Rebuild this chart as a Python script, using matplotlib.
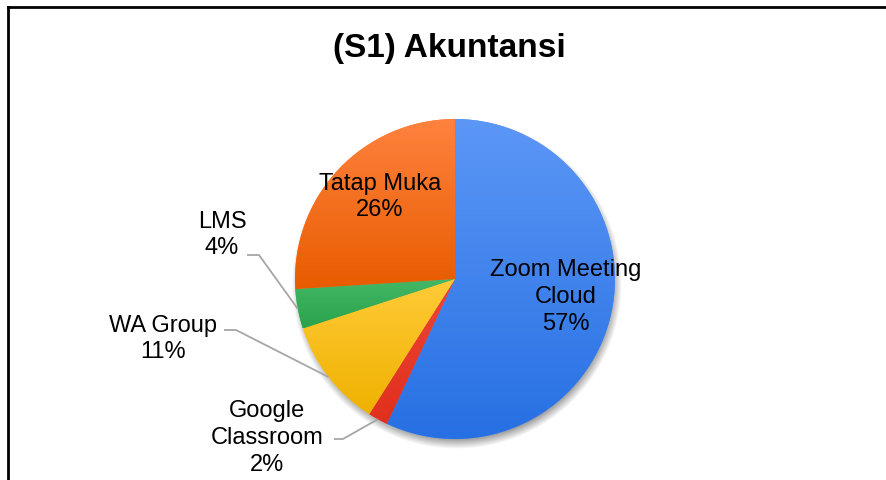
import numpy as np
import matplotlib.pyplot as plt
from matplotlib.lines import Line2D

# data
labels = ["Zoom Meeting\nCloud", "Google\nClassroom", "WA Group", "LMS", "Tatap Muka"]
shares = [57, 2, 11, 4, 26]
top_colors = ["#5C97F6", "#EE4434", "#FFCB38", "#44B866", "#FF823E"]
bottom_colors = ["#2770E3", "#E0301E", "#EFB100", "#2AA24B", "#E85C00"]

W, H = 887, 481
CX, CY, R = 455, 280, 160          # pie centre / radius in image pixels (y down)
LS = 1.27


def py(y):
    """image y (top down) -> axes y (bottom up)"""
    return H - y


def hex2rgb(h):
    h = h.lstrip("#")
    return np.array([int(h[i:i + 2], 16) / 255 for i in (0, 2, 4)])


plt.rcParams["font.family"] = ["Liberation Sans", "DejaVu Sans"]

fig = plt.figure(figsize=(W / 100, H / 100), dpi=100)
ax = fig.add_axes([0, 0, 1, 1])

# soft drop shadow under the pie
gx, gy = np.meshgrid(np.arange(W) + 0.5, np.arange(H) + 0.5)
d = np.hypot(gx - (CX + 2), gy - (CY + 5))
alpha = 0.42 * np.clip((R + 5 - d) / 11, 0, 1)
shadow = np.zeros((H, W, 4))
shadow[..., 3] = alpha
ax.imshow(shadow, extent=[0, W, 0, H], origin="upper", zorder=0,
          interpolation="bilinear")

wedges, _ = ax.pie(shares, startangle=90, counterclock=False,
                   center=(CX, py(CY)), radius=R,
                   colors=top_colors, wedgeprops=dict(linewidth=0))

# vertical gradient inside each slice
for w, c0, c1 in zip(wedges, top_colors, bottom_colors):
    w.set_zorder(1)
    v = w.get_path().vertices
    x0, x1 = v[:, 0].min(), v[:, 0].max()
    y0, y1 = v[:, 1].min(), v[:, 1].max()
    t = np.linspace(0, 1, 256)[:, None, None]
    grad = hex2rgb(c1)[None, None, :] * (1 - t) + hex2rgb(c0)[None, None, :] * t
    im = ax.imshow(grad, extent=[x0, x1, y0, y1], origin="lower",
                   aspect="auto", zorder=2, interpolation="bilinear")
    im.set_clip_path(w)

# labels inside
ax.text(566, py(297), "Zoom Meeting\nCloud\n57%", ha="center", va="center",
        fontsize=17, linespacing=LS, zorder=5)
ax.text(380, py(197), "Tatap Muka\n26%", ha="center", va="center",
        fontsize=17, linespacing=LS, zorder=5)

# labels outside with leader lines
outside = [
    (3, "LMS\n4%", (222, 235), (247, 256), (259, 256)),
    (2, "WA Group\n11%", (163, 339), (224, 331), (236, 331)),
    (1, "Google\nClassroom\n2%", (267, 438), (334, 440), (343, 440)),
]
for i, txt, (tx, ty), (sx, sy), (kx, ky) in outside:
    w = wedges[i]
    mid = np.deg2rad((w.theta1 + w.theta2) / 2)
    ex = CX + R * np.cos(mid)
    ey = py(CY) + R * np.sin(mid)
    ax.plot([sx, kx, ex], [py(sy), py(ky), ey], color="#A6A6A6",
            lw=1.3, zorder=4, solid_capstyle="butt")
    ax.text(tx, py(ty), txt, ha="center", va="center", fontsize=17,
            linespacing=LS, zorder=5)

ax.text(449, py(48), "(S1) Akuntansi", ha="center", va="center",
        fontsize=24, fontweight="bold", zorder=5)

ax.set_xlim(0, W)
ax.set_ylim(0, H)
ax.set_aspect("equal")
ax.axis("off")

# frame around the chart (only top and left visible in the crop)
fig.add_artist(Line2D([8.5 / W, 1], [1 - 7.5 / H, 1 - 7.5 / H],
                      color="black", lw=2))
fig.add_artist(Line2D([8.5 / W, 8.5 / W], [0, 1 - 7.5 / H],
                      color="black", lw=2))

fig.savefig("out.png", dpi=100)
